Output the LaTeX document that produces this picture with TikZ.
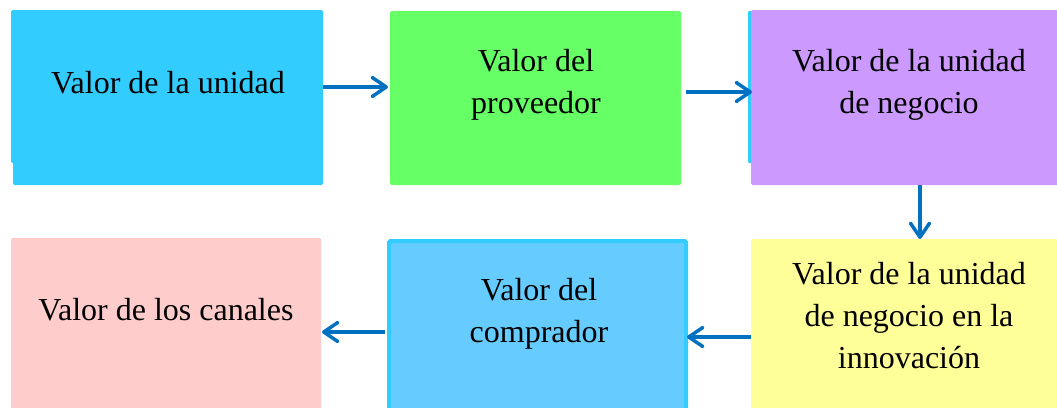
\documentclass[tikz,border=0pt]{standalone}
\usepackage{fontspec}
\setmainfont{Liberation Serif}
\usetikzlibrary{arrows.meta}
\definecolor{cyanA}{HTML}{33CCFF}
\definecolor{greenA}{HTML}{66FF66}
\definecolor{purpleA}{HTML}{CC99FF}
\definecolor{yellowA}{HTML}{FFFF99}
\definecolor{pinkA}{HTML}{FFCCCC}
\definecolor{blueA}{HTML}{66CCFF}
\definecolor{arrowA}{HTML}{0070C0}
\tikzset{
  box/.style={rectangle, inner sep=0pt, outer sep=0pt, rounded corners=1.5pt},
  lbl/.style={inner sep=0pt, anchor=base, align=center, font=\fontsize{32}{42}\selectfont},
  conn/.style={draw=arrowA, line width=3.5pt, -{Straight Barb[length=14pt,width=19pt,line cap=round,line join=round]}}
}
\begin{document}
\begin{tikzpicture}[x=1pt,y=-1pt]
\useasboundingbox (0,0) rectangle (1057,407);
% row 1
\fill[cyanA, rounded corners=1.5pt] (11,10) rectangle (20,163);
\node[box, fill=cyanA, minimum width=310pt, minimum height=175pt] (b1) at (168,97.5) {};
\node[box, fill=greenA, minimum width=291pt, minimum height=174pt] (b2) at (535.5,98) {};
\fill[cyanA, rounded corners=1pt] (748,11) rectangle (760,163);
\node[box, fill=purpleA, minimum width=309pt, minimum height=175pt] (b3) at (905.5,97.5) {};
% row 2
\node[box, fill=yellowA, minimum width=309pt, minimum height=171pt] (b4) at (905.5,324.5) {};
\node[box, fill=blueA, draw=cyanA, line width=4pt, minimum width=297pt, minimum height=171pt] (b5) at (537.5,326.5) {};
\node[box, fill=pinkA, minimum width=310pt, minimum height=172pt] (b6) at (166,324) {};
% labels (anchor = baseline of last line)
\node[lbl] (t1) at (168,93) {Valor de la unidad};
\node[lbl] (t2) at (536,113) {Valor del\\proveedor};
\node[lbl] (t3) at (909,113) {Valor de la unidad\\de negocio};
\node[lbl] (t4) at (909,368) {Valor de la unidad\\de negocio en la\\innovación};
\node[lbl] (t5) at (539,342) {Valor del\\comprador};
\node[lbl] (t6) at (166,320) {Valor de los canales};
% connectors
\draw[conn] (b1.east |- 0,87) -- ([xshift=-2pt]b2.west |- 0,87);
\draw[conn] ([xshift=5pt]b2.east |- 0,92) -- ([xshift=1pt]b3.west |- 0,92);
\draw[conn] (b3.south -| 920,0) -- (b4.north -| 920,0);
\draw[conn] (b4.west |- 0,337) -- ([xshift=1pt]b5.east |- 0,337);
\draw[conn] ([xshift=-4pt]b5.west |- 0,332) -- ([xshift=1pt]b6.east |- 0,332);
\end{tikzpicture}
\end{document}
